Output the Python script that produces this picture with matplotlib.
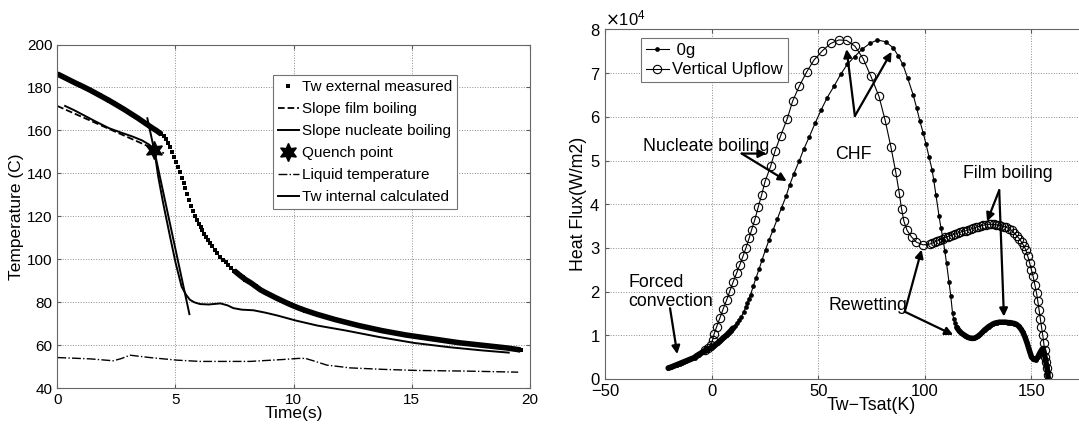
import numpy as np
import matplotlib.pyplot as plt
from matplotlib.ticker import ScalarFormatter

plt.rcParams['font.family'] = ['Liberation Sans', 'DejaVu Sans']

# ---- left panel: wall / liquid temperatures during quench ----
meas_t = [0, 0.2, 0.4, 0.6, 0.8, 1.0, 1.2, 1.4, 1.6, 1.8, 2.0, 2.2, 2.4, 2.6, 2.8,
          3.0, 3.2, 3.4, 3.6, 3.8, 4.0, 4.2, 4.4, 4.5, 4.6, 4.7, 4.78, 4.86, 4.94,
          5.02, 5.1, 5.18, 5.26, 5.34, 5.42, 5.5, 5.58, 5.66, 5.74, 5.82, 5.9, 5.98,
          6.06, 6.14, 6.22, 6.3, 6.38, 6.46, 6.56, 6.66, 6.76, 6.88, 7.0, 7.12, 7.24,
          7.36, 7.48, 7.6, 7.72, 7.84, 7.96, 8.2, 8.4, 8.6, 8.8, 9.0, 9.25, 9.5, 9.75,
          10.0, 10.25, 10.5, 10.75, 11.0, 11.25, 11.5, 11.75, 12.0, 12.25, 12.5, 12.75,
          13.0, 13.25, 13.5, 13.75, 14.0, 14.25, 14.5, 14.75, 15.0, 15.25, 15.5, 15.75,
          16.0, 16.25, 16.5, 16.75, 17.0, 17.25, 17.5, 17.75, 18.0, 18.25, 18.5, 18.75,
          19.0, 19.25, 19.5, 19.6]
meas_T = [186.3, 185.2, 184.1, 183.0, 181.9, 180.9, 179.8, 178.7, 177.5, 176.3, 175.1,
          173.9, 172.6, 171.3, 170.0, 168.6, 167.2, 165.8, 164.3, 162.8, 161.3, 159.9,
          158.3, 157.3, 156.0, 154.2, 152.2, 150.0, 147.7, 145.4, 143.0, 140.5, 138.0,
          135.5, 133.0, 130.5, 127.8, 125.0, 122.5, 120.2, 118.2, 116.5, 115.0, 113.5,
          112.0, 110.5, 109.0, 107.6, 106.0, 104.5, 103.0, 101.3, 99.9, 98.6, 97.3,
          96.0, 94.8, 93.7, 92.6, 91.6, 90.6, 89.0, 87.4, 85.8, 84.6, 83.5, 82.1, 80.8,
          79.5, 78.3, 77.2, 76.2, 75.3, 74.4, 73.6, 72.8, 72.0, 71.3, 70.6, 69.9, 69.2,
          68.6, 68.0, 67.4, 66.8, 66.3, 65.8, 65.3, 64.8, 64.4, 64.0, 63.6, 63.2, 62.8,
          62.4, 62.0, 61.6, 61.2, 60.9, 60.6, 60.3, 60.0, 59.7, 59.4, 59.1, 58.8, 58.4,
          58.0, 57.8]

film_t = [0, 4.51]
film_T = [171.4, 149.4]
nucl_t = [3.81, 5.59]
nucl_T = [165.7, 74.5]
quench_t = [4.1]
quench_T = [151.0]

liq_t = [0, 1.38, 2.37, 2.7, 3.08, 3.92, 5.05, 6.04, 8.15, 9.56, 10.2, 10.5, 10.83,
         11.4, 12.38, 13.79, 15.2, 17.3, 19.5]
liq_T = [54.3, 53.7, 52.8, 53.8, 55.4, 54.3, 53.1, 52.5, 52.5, 53.4, 53.9, 53.9, 52.8,
         50.8, 49.5, 48.8, 48.3, 48.0, 47.5]

int_t = [0.33, 0.7, 1.1, 1.6, 2.2, 2.7, 3.2, 3.6, 3.9, 4.1, 4.27, 4.48, 4.77, 5.01,
         5.26, 5.45, 5.61, 5.8, 6.04, 6.4, 6.9, 7.2, 7.45, 7.8, 8.3, 8.8, 9.3, 10.1,
         11.0, 12.2, 13.6, 15.1, 16.6, 18.0, 19.1]
int_T = [171.4, 169.5, 167.2, 164.3, 161.0, 159.0, 157.1, 155.3, 153.3, 151.3, 138.5,
         126.1, 110.6, 98.2, 87.3, 83.5, 81.2, 80.0, 79.2, 79.0, 79.5, 78.6, 77.3,
         76.6, 76.3, 75.2, 73.9, 71.5, 69.2, 66.9, 63.9, 61.1, 59.1, 57.6, 56.6]

# ---- right panel: boiling curves (heat flux in units of 1e4 W/m2) ----
g0_dT = [-20.3, -19, -18, -17, -16, -15, -14, -13, -12, -11, -10, -9, -8, -7, -6, -5,
         -4, -3, -2, -1, 0, 1, 2, 3, 4, 5, 6, 7, 8, 9, 10, 11, 12, 13, 14, 15, 16,
         16.7, 17.5, 18.3, 19.5, 20.8, 22.3, 23.7, 25.3, 27.0, 28.9, 30.8, 32.8, 34.9,
         36.6, 38.6, 41.0, 43.3, 45.8, 48.5, 51.3, 54.2, 57.4, 60.5, 63.6, 67.1, 70.6,
         74.2, 77.7, 81.6, 85.2, 87.5, 89.7, 92.0, 94.5, 96.2, 97.7, 99.2, 100.6, 102.0,
         103.4, 104.2, 105.2, 106.7, 107.6, 108.6, 109.4, 110.2, 111.3, 112.2, 113.0,
         113.5, 114.1, 115, 116, 117, 118, 119, 120, 121, 122, 123, 124, 125, 126, 127,
         128, 129, 130, 131, 132, 133, 134, 135, 136, 137, 138, 139, 140, 141, 142, 143,
         144, 145, 146, 147, 148, 149, 150, 151, 152, 153, 154, 155, 155.5, 156, 156.6,
         157.2, 157.6, 157.8]
g0_q = [0.25, 0.27, 0.29, 0.31, 0.33, 0.35, 0.37, 0.39, 0.41, 0.43, 0.45, 0.47, 0.49,
        0.53, 0.56, 0.59, 0.62, 0.65, 0.68, 0.70, 0.72, 0.75, 0.79, 0.83, 0.87, 0.92,
        0.96, 1.00, 1.05, 1.10, 1.16, 1.22, 1.28, 1.35, 1.43, 1.53, 1.64, 1.74, 1.84,
        1.93, 2.12, 2.31, 2.52, 2.73, 2.96, 3.19, 3.42, 3.66, 3.92, 4.18, 4.44, 4.70,
        4.98, 5.27, 5.54, 5.85, 6.15, 6.44, 6.70, 6.97, 7.20, 7.38, 7.55, 7.68, 7.76,
        7.72, 7.58, 7.40, 7.20, 6.88, 6.51, 6.20, 5.90, 5.64, 5.37, 5.08, 4.79, 4.55,
        4.22, 3.72, 3.45, 3.19, 2.92, 2.65, 2.23, 1.89, 1.51, 1.38, 1.28, 1.18, 1.11,
        1.06, 1.02, 0.99, 0.96, 0.94, 0.93, 0.93, 0.95, 0.98, 1.02, 1.07, 1.12, 1.16,
        1.20, 1.23, 1.26, 1.28, 1.29, 1.30, 1.30, 1.30, 1.30, 1.29, 1.29, 1.28, 1.27,
        1.25, 1.21, 1.15, 1.07, 0.96, 0.82, 0.66, 0.51, 0.45, 0.44, 0.50, 0.60, 0.68,
        0.70, 0.60, 0.44, 0.28, 0.17, 0.05]

up_dT = [-3, -1.5, -0.3, 0.5, 1.1, 2.4, 3.9, 5.4, 7.0, 8.6, 10.1, 11.7, 13.3, 14.8,
         16.1, 17.6, 18.8, 20.3, 21.9, 23.5, 25.0, 27.7, 29.7, 32.4, 35.5, 38.0, 41.1,
         44.6, 48.0, 51.9, 55.8, 59.7, 63.3, 67.2, 71.1, 74.7, 78.5, 81.4, 84.1, 86.4,
         88.0, 89.1, 90.2, 91.7, 93.8, 96.1, 99.2, 102.4, 103.5, 104.7, 105.9, 107.1,
         108.3, 109.5, 110.7, 111.9, 113.1, 114.3, 115.5, 116.7, 117.9, 119.1, 120.3,
         121.5, 122.7, 123.9, 125.1, 126.3, 127.5, 128.7, 129.9, 131.1, 132.3, 133.5,
         134.7, 135.9, 137.1, 138.3, 139.5, 140.7, 141.9, 143.1, 144.3, 145.4, 146.5,
         147.4, 148.3, 149.2, 150.0, 150.8, 151.6, 152.4, 153.0, 153.6, 154.2, 154.7,
         155.3, 155.8, 156.2, 156.6, 157.0, 157.4, 157.8]
up_q = [0.66, 0.71, 0.78, 0.90, 1.02, 1.20, 1.40, 1.60, 1.80, 2.02, 2.22, 2.42, 2.62,
        2.82, 3.00, 3.22, 3.42, 3.65, 3.94, 4.22, 4.51, 4.87, 5.21, 5.57, 5.96, 6.36,
        6.70, 7.03, 7.30, 7.51, 7.68, 7.76, 7.75, 7.62, 7.33, 6.93, 6.47, 5.92, 5.31,
        4.73, 4.26, 3.89, 3.61, 3.40, 3.25, 3.13, 3.07, 3.09, 3.11, 3.14, 3.16, 3.19,
        3.21, 3.24, 3.26, 3.28, 3.30, 3.32, 3.34, 3.36, 3.38, 3.39, 3.41, 3.43, 3.45,
        3.47, 3.49, 3.51, 3.52, 3.53, 3.54, 3.54, 3.54, 3.53, 3.52, 3.51, 3.49, 3.47,
        3.44, 3.40, 3.34, 3.28, 3.21, 3.13, 3.04, 2.95, 2.81, 2.65, 2.50, 2.35, 2.16,
        1.97, 1.78, 1.58, 1.38, 1.20, 1.01, 0.82, 0.66, 0.51, 0.38, 0.25, 0.08]

fig = plt.figure(figsize=(10.79, 4.28), dpi=100)
ax1 = fig.add_axes([0.0531, 0.0928, 0.4381, 0.8032])
ax2 = fig.add_axes([0.5607, 0.1145, 0.494, 0.8166])

for ax in (ax1, ax2):
    ax.grid(True, linestyle=':', color='0.55', linewidth=0.7)
    ax.tick_params(direction='in', top=True, right=True, length=3, color='0.35')
    for s in ax.spines.values():
        s.set_color('0.4')
        s.set_linewidth(0.8)

# left: densely sampled stretches of the measured curve merge into a band
ax1.plot(meas_t[:23], meas_T[:23], '-', color='k', lw=4.0, solid_capstyle='butt')
ax1.plot(meas_t[56:], meas_T[56:], '-', color='k', lw=4.0, solid_capstyle='butt')
ax1.plot(meas_t, meas_T, 's', color='k', ms=3.3, mew=0, label='Tw external measured')
ax1.plot(film_t, film_T, '--', color='k', lw=1.3, label='Slope film boiling')
ax1.plot(nucl_t, nucl_T, '-', color='k', lw=1.4, label='Slope nucleate boiling')
ax1.plot(quench_t, quench_T, linestyle='none', marker=(6, 1, 0), color='k', ms=13,
         label='Quench point', zorder=5)
ax1.plot(liq_t, liq_T, '-.', color='k', lw=1.0, label='Liquid temperature')
ax1.plot(int_t, int_T, '-', color='k', lw=1.4, label='Tw internal calculated')
ax1.set_xlim(0, 20)
ax1.set_ylim(40, 200)
ax1.set_xticks([0, 5, 10, 15, 20])
ax1.set_yticks(range(40, 201, 20))
ax1.tick_params(labelsize=11)
ax1.set_xlabel('Time(s)', fontsize=12.5, labelpad=-1)
ax1.set_ylabel('Temperature (C)', fontsize=12.5, labelpad=2)
leg1 = ax1.legend(loc='upper left', bbox_to_anchor=(0.2527, 0.8248),
                  bbox_transform=fig.transFigure, fontsize=11, numpoints=1,
                  handlelength=1.35, handletextpad=0.2, labelspacing=0.52,
                  borderpad=0.35, borderaxespad=0, fancybox=False, framealpha=1,
                  edgecolor='0.45')
leg1.get_frame().set_linewidth(0.8)

# right
q0 = np.array(g0_q) * 1e4
qu = np.array(up_q) * 1e4
ax2.plot(g0_dT[:31], q0[:31], '-', color='k', lw=4.2, solid_capstyle='round')
ax2.plot(g0_dT[89:], q0[89:], '-', color='k', lw=4.0, solid_capstyle='round')
ax2.plot(g0_dT, q0, '-', color='k', lw=0.8, marker='o', ms=3.4, mfc='k', mew=0,
         label=' 0g')
ax2.plot(up_dT, qu, '-', color='k', lw=0.8, marker='o', ms=6, mfc='none', mec='k',
         mew=0.8, label='Vertical Upflow')
ax2.set_xlim(-50, 200)
ax2.set_ylim(0, 8e4)
ax2.set_xticks([-50, 0, 50, 100, 150])
ax2.set_yticks(np.arange(0, 8.01e4, 1e4))
fmt = ScalarFormatter(useMathText=True)
fmt.set_powerlimits((0, 0))
ax2.yaxis.set_major_formatter(fmt)
ax2.tick_params(labelsize=12)
ax2.yaxis.get_offset_text().set_fontsize(12)
ax2.set_xlabel('Tw\u2212Tsat(K)', fontsize=12.8, labelpad=-1)
ax2.set_ylabel('Heat Flux(W/m2)', fontsize=12.8, labelpad=2)
leg2 = ax2.legend(loc='upper left', bbox_to_anchor=(0.5938, 0.9105),
                  bbox_transform=fig.transFigure, fontsize=12, numpoints=1,
                  handlelength=1.4, handletextpad=0.2, labelspacing=0.25,
                  borderpad=0.3, borderaxespad=0, fancybox=False, framealpha=1,
                  edgecolor='0.45')
leg2.get_frame().set_linewidth(0.8)

arrow = dict(arrowstyle='-|>', color='k', lw=1.6, mutation_scale=12,
             shrinkA=0, shrinkB=0)


def arrows(start, ends):
    for e in ends:
        ax2.annotate('', xy=(e[0], e[1] * 1e4), xytext=(start[0], start[1] * 1e4),
                     arrowprops=arrow)


ax2.text(-32.0, 5.33e4, 'Nucleate boiling', fontsize=12.8, ha='left', va='center')
arrows((14.1, 5.16), [(25.8, 5.16), (35.2, 4.53)])
ax2.text(57.8, 5.15e4, 'CHF', fontsize=12.8, ha='left', va='center')
arrows((67.2, 6.02), [(63.3, 7.55), (84.4, 7.49)])
ax2.text(117.7, 4.70e4, 'Film boiling', fontsize=12.8, ha='left', va='center')
arrows((134.9, 4.32), [(129.2, 3.61), (137.1, 1.43)])
ax2.text(54.9, 1.69e4, 'Rewetting', fontsize=12.8, ha='left', va='center')
arrows((90.6, 1.54), [(98.5, 2.96), (113.3, 1.01)])
ax2.text(-39.1, 2.0e4, 'Forced\nconvection', fontsize=12.8, ha='left', va='center',
         linespacing=1.15)
arrows((-19.5, 1.62), [(-16.1, 0.57)])

fig.savefig('out.png', dpi=100)
